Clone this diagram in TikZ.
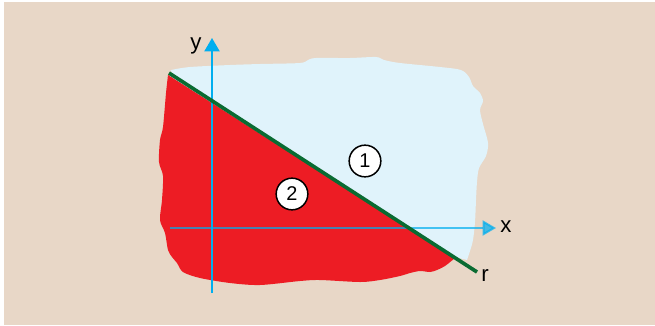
\documentclass[tikz,border=0pt]{standalone}
\usepackage{fontspec}
\setmainfont{Liberation Sans}
\usetikzlibrary{arrows.meta}
\definecolor{sand}{HTML}{E8D7C7}
\definecolor{sky}{HTML}{E0F3FB}
\definecolor{halfred}{HTML}{ED1C24}
\definecolor{axisblue}{HTML}{00AEEF}
\definecolor{lineg}{HTML}{0A6B32}
\tikzset{
  axis/.style   = {draw=axisblue, line width=0.6mm,
                   -{Triangle[length=4mm, width=4.5mm]}},
  rline/.style  = {draw=lineg, line width=1.1mm},
  region/.style = {draw=none},
  lbl/.style    = {inner sep=0pt, font=\fontsize{19}{22}\selectfont},
  tag/.style    = {circle, draw=black, line width=0.45mm, fill=white,
                   minimum size=9.5mm, inner sep=0pt,
                   font=\fontsize{17}{19}\selectfont},
}

\begin{document}
\begin{tikzpicture}[x=0.3mm, y=-0.3mm]

  % ── page ───────────────────────────────────────────────────────────────────
  \useasboundingbox (0,0) rectangle (655,325);
  \fill[white] (0,0) rectangle (655,325);
  \fill[sand] (4,2) rectangle (655,325);

  % ── key points ─────────────────────────────────────────────────────────────
  \coordinate (rA) at (169,73);
  \coordinate (rB) at (477,272);
  \coordinate (rC) at (455,258);
  \coordinate (xS) at (170,228);
  \coordinate (xE) at (496,228);
  \coordinate (yS) at (212,293);
  \coordinate (yE) at (212,38);

  % ── half-plane 1 (light blue) ──────────────────────────────────────────────
  \fill[sky, region] (rA) -- (171,70)
    plot[smooth, tension=0.5] coordinates {(171,70) (190,67) (230,65) (260,64)
      (300,63) (308,60) (316,58) (350,58) (376,57) (384,60) (400,63) (440,67)
      (461,70) (469,77) (473,86) (480,93) (483,101) (480,110) (483,124)
      (488,143) (486,156) (479,168) (477,182) (476,200) (475,222) (473,240)
      (470,251) (467,260)}
    -- (440,253) -- (180,243) -- (174,80) -- cycle;

  % ── half-plane 2 (red) ─────────────────────────────────────────────────────
  \fill[halfred, region] (rA) -- (rC)
    plot[smooth, tension=0.5] coordinates {(rC) (445,266) (437,270) (430,272)
      (420,271) (410,273) (400,276) (380,280) (360,282) (320,280) (300,281)
      (260,285) (230,283) (200,278) (183,272) (177,263) (172,257) (168,250)
      (165,233) (160,220) (162,200) (163,176) (159,162) (160,140) (163,127)
      (166,93) (168,75)}
    -- cycle;

  % ── axes ───────────────────────────────────────────────────────────────────
  \draw[axis, opacity=0.7] (xS) -- (xE);
  \draw[axis] (yS) -- (yE);

  % ── line r ─────────────────────────────────────────────────────────────────
  \draw[rline] (rA) -- (rB);

  % ── labels ─────────────────────────────────────────────────────────────────
  \node[lbl] (ylbl) at (196,46) {y};
  \node[lbl] (xlbl) at (506,227) {x};
  \node[lbl] (rlbl) at (485,276) {r};
  \node[tag] (one) at (365,161) {1};
  \node[tag] (two) at (292,194) {2};

\end{tikzpicture}
\end{document}
